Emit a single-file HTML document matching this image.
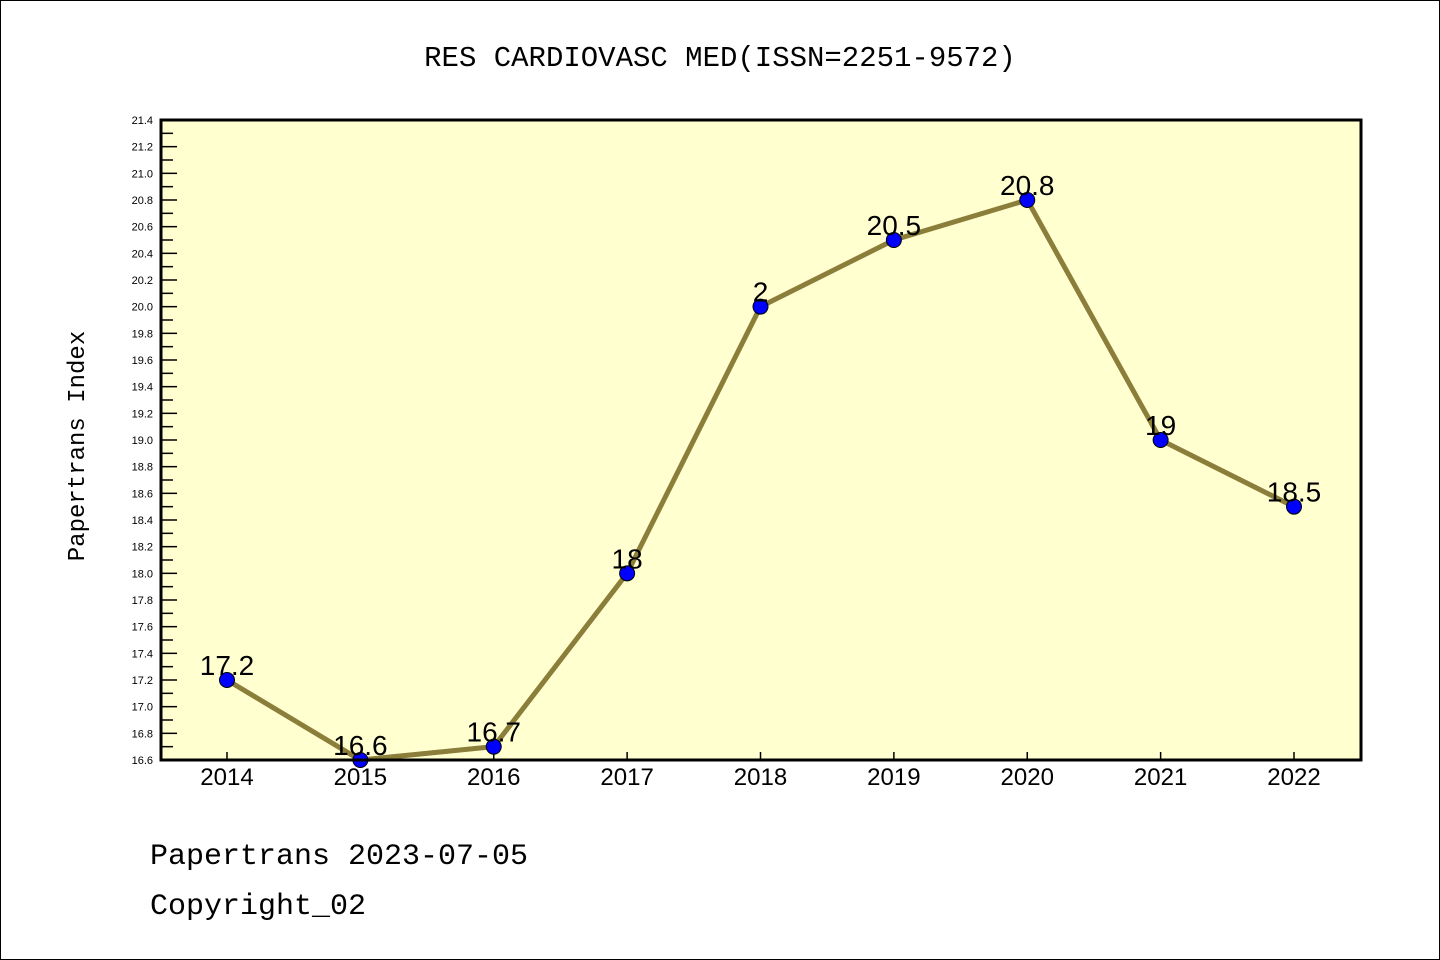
<!DOCTYPE html>
<html><head><meta charset="utf-8"><style>
body{margin:0;background:#fff}
svg{display:block}
</style></head><body>
<svg width="1440" height="960" xmlns="http://www.w3.org/2000/svg">
<rect x="0.5" y="0.5" width="1439" height="959" fill="#fff" stroke="#000"/>
<text x="720" y="66" text-anchor="middle" font-family="Liberation Mono, monospace" font-size="29">RES CARDIOVASC MED(ISSN=2251-9572)</text>
<rect x="161" y="120" width="1200" height="640" fill="#ffffd0"/>
<g id="axes"></g>
<g id="marks"></g>
<rect x="161" y="120" width="1200" height="640" fill="none" stroke="#000" stroke-width="3"/>
<text transform="translate(84,446) rotate(-90)" text-anchor="middle" font-family="Liberation Mono, monospace" font-size="24">Papertrans Index</text>
<text x="150" y="864" font-family="Liberation Mono, monospace" font-size="30">Papertrans 2023-07-05</text>
<text x="150" y="914" font-family="Liberation Mono, monospace" font-size="30">Copyright_02</text>
</svg>
<script>
const years=["2014","2015","2016","2017","2018","2019","2020","2021","2022"];
const values=[17.2,16.6,16.7,18,20,20.5,20.8,19,18.5];
const labels=["17.2","16.6","16.7","18","2","20.5","20.8","19","18.5"];
const yMin=16.6,yMax=21.4;
const NS="http://www.w3.org/2000/svg";
function xs(i){return 227+i*(1294-227)/(years.length-1);}
function ys(v){return 760-(v-yMin)/(yMax-yMin)*640;}
function mk(t,a,p){const e=document.createElementNS(NS,t);for(const k in a)e.setAttribute(k,a[k]);p.appendChild(e);return e;}
const ax=document.getElementById('axes'),mg=document.getElementById('marks');
for(let k=0;k<=48;k++){
  const v=yMin+k*0.1,y=ys(v);
  const t=mk('line',{x1:161,x2:k%2?173:177,y1:y,y2:y,stroke:'#000','stroke-width':1.5},ax);
  
  
  if(k%2===0){
    const l=mk('text',{x:153,y:y+4,'text-anchor':'end','font-family':'Liberation Sans, sans-serif','font-size':11},ax);
    l.textContent=v.toFixed(1);
    
    
  }
}
years.forEach((yr,i)=>{
  const x=xs(i);
  const t=mk('line',{x1:x,x2:x,y1:760,y2:752,stroke:'#000','stroke-width':1.5},ax);
  
  
  const l=mk('text',{x:x,y:785,'text-anchor':'middle','font-family':'Liberation Sans, sans-serif','font-size':24},ax);
  l.textContent=yr;
  
  
});
const line=mk('polyline',{points:values.map((v,i)=>xs(i)+','+ys(v)).join(' '),fill:'none',stroke:'#8b7d3a','stroke-width':5},mg);


values.forEach((v,i)=>{
  const c=mk('circle',{cx:xs(i),cy:ys(v),r:7.5,fill:'#0000ff',stroke:'#000','stroke-width':1},mg);
  
  
  const l=mk('text',{x:xs(i),y:ys(v)-5,'text-anchor':'middle','font-family':'Liberation Sans, sans-serif','font-size':28},mg);
  l.textContent=labels[i];
  
  
});
</script>
</body></html>
